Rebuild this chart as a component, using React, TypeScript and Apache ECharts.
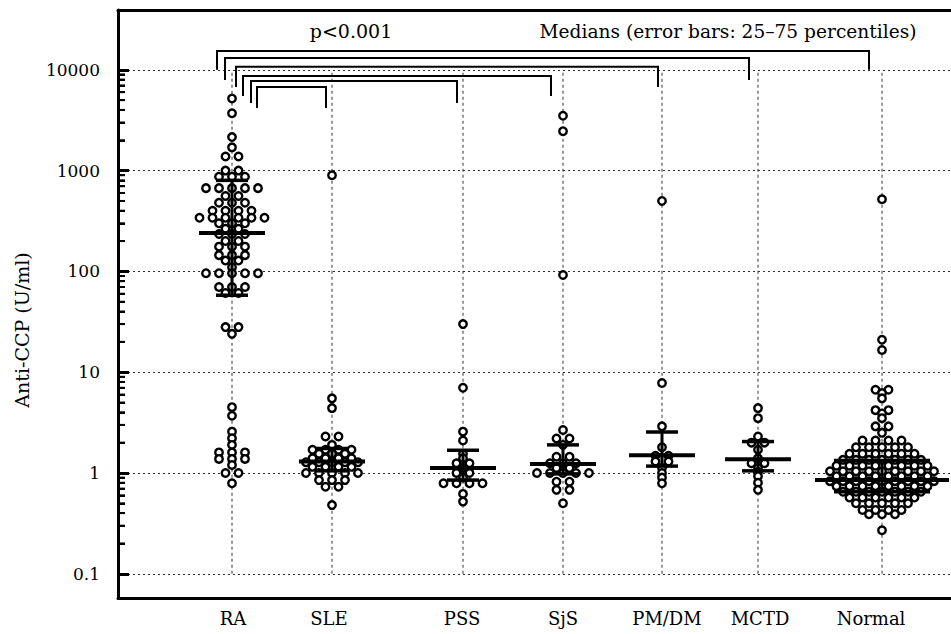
import React, { useEffect, useRef } from 'react';
import * as echarts from 'echarts';

const SERIF = '"DejaVu Serif", "Liberation Serif", serif';

// ---- categories & layout of columns ----
const groups = ['RA', 'SLE', 'PSS', 'SjS', 'PM/DM', 'MCTD', 'Normal'];
const groupPos = [1.14, 2.14, 3.45, 4.45, 5.44, 6.4, 7.64];
const labelPos = [1.15, 2.11, 3.44, 4.45, 5.49, 6.42, 7.53];

// ---- individual values (U/ml) ----
const raValues = [
  5200, 3700, 2150, 1700, 1380, 1380, 1000, 1000, 870, 870, 870,
  670, 670, 670, 670, 670, 560, 560, 480, 480, 480, 400, 400, 400, 400,
  340, 340, 340, 340, 340, 340, 300, 300, 300, 265, 265, 235, 235, 235,
  200, 200, 176, 176, 176, 145, 145, 145, 128, 128, 110,
  96, 96, 96, 96, 96, 70, 70, 70, 61, 61,
  28, 28, 24, 4.5, 3.7, 2.57, 2.21, 1.9, 1.6, 1.6, 1.6, 1.38, 1.38, 1.38, 1.2, 1.0, 1.0, 0.79,
];
const sleValues = [
  900, 5.5, 4.4, 2.3, 2.3, 1.9, 1.7, 1.7, 1.7, 1.7, 1.55, 1.55, 1.55,
  1.4, 1.4, 1.4, 1.4, 1.28, 1.28, 1.28, 1.28, 1.28, 1.15, 1.15, 1.15, 1.15,
  1.0, 1.0, 1.0, 1.0, 1.0, 0.85, 0.85, 0.85, 0.73, 0.73, 0.48,
];
const pssValues = [
  30, 7, 2.57, 2.1, 1.55, 1.4, 1.25, 1.25, 1.12, 1.0, 1.0, 0.9,
  0.79, 0.79, 0.79, 0.79, 0.62, 0.52,
];
const sjsValues = [
  3500, 2460, 92, 2.67, 2.2, 2.2, 1.9, 1.45, 1.45, 1.25, 1.25, 1.25, 1.12, 1.12,
  1.0, 1.0, 1.0, 1.0, 1.0, 0.82, 0.82, 0.68, 0.68, 0.5,
];
const pmdmValues = [500, 7.8, 2.9, 1.8, 1.48, 1.48, 1.3, 1.3, 1.12, 1.0, 0.9, 0.79];
const mctdValues = [4.4, 3.5, 2.3, 2.0, 2.0, 1.7, 1.4, 1.25, 1.25, 1.12, 1.02, 0.93, 0.8, 0.68];
const normalValues = [
  520, 21, 16.6, 6.7, 6.7, 6.2, 5.5, 4.2, 4.2, 3.9, 3.5, 2.9, 2.9, 2.5,
  2.1, 2.1, 2.1, 2.1,
  1.8, 1.8, 1.8, 1.8, 1.8,
  1.55, 1.55, 1.55, 1.55, 1.55, 1.55,
  1.35, 1.35, 1.35, 1.35, 1.35, 1.35, 1.35,
  1.18, 1.18, 1.18, 1.18, 1.18, 1.18, 1.18, 1.18,
  1.04, 1.04, 1.04, 1.04, 1.04, 1.04, 1.04, 1.04, 1.04,
  0.93, 0.93, 0.93, 0.93, 0.93, 0.93, 0.93, 0.93,
  0.83, 0.83, 0.83, 0.83, 0.83, 0.83, 0.83, 0.83, 0.83,
  0.74, 0.74, 0.74, 0.74, 0.74, 0.74, 0.74, 0.74,
  0.65, 0.65, 0.65, 0.65, 0.65, 0.65, 0.65,
  0.57, 0.57, 0.57, 0.57, 0.57, 0.57,
  0.5, 0.5, 0.5, 0.5, 0.5,
  0.43, 0.43, 0.43, 0.43,
  0.39, 0.39, 0.39,
  0.27,
];
const groupValues = [raValues, sleValues, pssValues, sjsValues, pmdmValues, mctdValues, normalValues];

// ---- medians and 25-75 percentiles ----
const medians = [240, 1.3, 1.12, 1.23, 1.5, 1.37, 0.85];
const q25 = [58, 1.05, 0.85, 0.98, 1.17, 1.05, 0.65];
const q75 = [800, 1.75, 1.68, 1.9, 2.55, 2.05, 1.33];

// ---- y axis ticks ----
const yTicks = [0.1, 1, 10, 100, 1000, 10000];
const yTickLabels = ['0.1', '1', '10', '100', '1000', '10000'];

// ---- comparison brackets (RA vs. each group), in data units ----
const bracketTarget = ['Normal', 'MCTD', 'PM/DM', 'SjS', 'PSS', 'SLE'];
const bracketLeft = [0.99, 1.07, 1.18, 1.25, 1.33, 1.39];
const bracketRight = [7.51, 6.31, 5.4, 4.33, 3.39, 2.08];
const bracketTop = [15400, 13100, 10700, 8680, 7740, 6750];
const bracketFoot = [10000, 7920, 6750, 5500, 4690, 4180];

// ---- layout / style constants ----
const H = 634;
// the chart canvas is slightly wider than the 951px window so that the
// plot frame runs off the right edge (no right border is visible in the original)
const CHART_W = 960;
const GRID = { left: 118, right: 6, top: 10, bottom: 36 };
const X_MAX = 8.36;
const Y_MIN = 0.0575;
const Y_MAX = 39200;
const DOT_SPACING = 13;
const medHalf = [33, 33, 33, 33, 33, 33, 67];
const capHalf = [16, 16, 16, 16, 16, 16, 48];
const PX_PER_X = (CHART_W - GRID.left - GRID.right) / X_MAX;

const minorTicks: number[] = [];
for (let d = -1; d < 4; d++) {
  for (let m = 2; m <= 9; m++) minorTicks.push(m * Math.pow(10, d));
}

function swarm(values: number[], center: number): number[][] {
  const sorted = [...values].sort((a, b) => b - a);
  const out: number[][] = [];
  let i = 0;
  while (i < sorted.length) {
    let j = i;
    while (j < sorted.length && sorted[j] === sorted[i]) j++;
    const n = j - i;
    for (let k = 0; k < n; k++) {
      out.push([center + ((k - (n - 1) / 2) * DOT_SPACING) / PX_PER_X, sorted[i]]);
    }
    i = j;
  }
  return out;
}

const points: number[][] = [];
groupValues.forEach((vals, gi) => {
  swarm(vals, groupPos[gi]).forEach((p) => points.push(p));
});

const BLACK = '#000';

function buildOption(): any {
  return {
    animation: false,
    backgroundColor: '#fff',
    textStyle: { fontFamily: SERIF },
    grid: { ...GRID, containLabel: false, show: false, borderWidth: 0 },
    xAxis: [
      {
        type: 'value',
        min: 0,
        max: X_MAX,
        position: 'bottom',
        axisLine: { show: true, onZero: false, lineStyle: { color: BLACK, width: 3 } },
        axisTick: { show: false },
        splitLine: { show: false },
        axisLabel: {
          customValues: labelPos,
          formatter: (v: number) => {
            const i = labelPos.findIndex((p) => Math.abs(p - v) < 1e-6);
            return i >= 0 ? groups[i] : '';
          },
          margin: 11,
          color: BLACK,
          fontSize: 18,
          fontFamily: SERIF,
        },
      },
      {
        type: 'value',
        min: 0,
        max: X_MAX,
        position: 'top',
        axisLine: { show: true, onZero: false, lineStyle: { color: BLACK, width: 3 } },
        axisTick: { show: false },
        axisLabel: { show: false },
        splitLine: { show: false },
      },
    ],
    yAxis: [
      {
        type: 'log',
        logBase: 10,
        min: Y_MIN,
        max: Y_MAX,
        position: 'left',
        axisLine: { show: true, onZero: false, lineStyle: { color: BLACK, width: 3 } },
        axisTick: {
          show: true,
          inside: true,
          length: 11,
          customValues: yTicks,
          lineStyle: { color: BLACK, width: 3 },
        },
        minorTick: { show: false },
        splitLine: { show: true, lineStyle: { color: '#333', width: 1, type: [2, 3] } },
        axisLabel: {
          formatter: (v: number) => {
            const i = yTicks.findIndex((t) => Math.abs(Math.log10(v) - Math.log10(t)) < 1e-6);
            return i >= 0 ? yTickLabels[i] : '';
          },
          margin: 18,
          color: BLACK,
          fontSize: 17,
          fontFamily: SERIF,
        },
      },
      {
        // minor (2..9) log ticks along the left frame
        type: 'log',
        logBase: 10,
        min: Y_MIN,
        max: Y_MAX,
        position: 'left',
        offset: 0,
        axisLine: { show: false },
        axisTick: {
          show: true,
          inside: true,
          length: 7,
          customValues: minorTicks,
          lineStyle: { color: BLACK, width: 2 },
        },
        axisLabel: { show: false },
        splitLine: { show: false },
      },
    ],
    graphic: [
      {
        type: 'text',
        x: 351,
        y: 31,
        style: { text: 'p<0.001', fill: BLACK, font: `19px ${SERIF}`, textAlign: 'center', textVerticalAlign: 'middle' },
      },
      {
        type: 'text',
        x: 728,
        y: 31,
        style: {
          text: 'Medians (error bars: 25–75 percentiles)',
          fill: BLACK,
          font: `18.6px ${SERIF}`,
          textAlign: 'center',
          textVerticalAlign: 'middle',
        },
      },
      {
        type: 'text',
        x: 22,
        y: 330,
        rotation: Math.PI / 2,
        style: { text: 'Anti-CCP (U/ml)', fill: BLACK, font: `19px ${SERIF}`, textAlign: 'center', textVerticalAlign: 'middle' },
      },
    ],
    series: [
      // column guide lines
      {
        type: 'custom',
        name: 'columns',
        coordinateSystem: 'cartesian2d',
        z: 1,
        silent: true,
        encode: { x: 0, y: [1, 2] },
        data: groupPos.map((p) => [p, yTicks[0], yTicks[yTicks.length - 1]]),
        renderItem: (params: any, api: any) => {
          const a = api.coord([api.value(0), api.value(1)]);
          const b = api.coord([api.value(0), api.value(2)]);
          return {
            type: 'line',
            shape: { x1: a[0], y1: a[1], x2: b[0], y2: b[1] },
            style: { stroke: '#333', lineWidth: 1, lineDash: [3, 3] },
          };
        },
      },
      // minor ticks on y axis (drawn through the axis scale as well)
      {
        type: 'custom',
        name: 'minorTicks',
        coordinateSystem: 'cartesian2d',
        z: 5,
        clip: false,
        silent: true,
        encode: { x: 0, y: 1 },
        data: minorTicks.map((v) => [0, v]),
        renderItem: (params: any, api: any) => {
          const p = api.coord([0, api.value(1)]);
          return {
            type: 'line',
            shape: { x1: p[0], y1: p[1], x2: p[0] + 7, y2: p[1] },
            style: { stroke: BLACK, lineWidth: 2 },
          };
        },
      },
      // individual values
      {
        type: 'scatter',
        name: 'values',
        z: 3,
        symbol: 'circle',
        symbolSize: 7.5,
        itemStyle: { color: '#fff', borderColor: BLACK, borderWidth: 2.4, opacity: 1 },
        data: points,
      },
      // medians and quartile bars
      {
        type: 'custom',
        name: 'medians',
        coordinateSystem: 'cartesian2d',
        z: 4,
        clip: false,
        silent: true,
        encode: { x: 0, y: [1, 2, 3] },
        data: groups.map((g, i) => [groupPos[i], medians[i], q25[i], q75[i]]),
        renderItem: (params: any, api: any) => {
          const i = params.dataIndex;
          const x = api.value(0);
          const pm = api.coord([x, api.value(1)]);
          const pl = api.coord([x, api.value(2)]);
          const ph = api.coord([x, api.value(3)]);
          const mh = medHalf[i];
          const ch = capHalf[i];
          const st = (w: number) => ({ stroke: BLACK, lineWidth: w });
          return {
            type: 'group',
            children: [
              { type: 'line', shape: { x1: pl[0], y1: pl[1], x2: ph[0], y2: ph[1] }, style: st(3) },
              { type: 'line', shape: { x1: pl[0] - ch, y1: pl[1], x2: pl[0] + ch, y2: pl[1] }, style: st(3.5) },
              { type: 'line', shape: { x1: ph[0] - ch, y1: ph[1], x2: ph[0] + ch, y2: ph[1] }, style: st(3.5) },
              { type: 'line', shape: { x1: pm[0] - mh, y1: pm[1], x2: Math.min(pm[0] + mh, 949), y2: pm[1] }, style: st(4) },
            ],
          };
        },
      },
      // significance brackets
      {
        type: 'custom',
        name: 'brackets',
        coordinateSystem: 'cartesian2d',
        z: 4,
        clip: false,
        silent: true,
        encode: { x: [0, 1], y: [2, 3] },
        data: bracketTarget.map((t, i) => [bracketLeft[i], bracketRight[i], bracketTop[i], bracketFoot[i]]),
        renderItem: (params: any, api: any) => {
          const l = api.value(0);
          const r = api.value(1);
          const t = api.value(2);
          const f = api.value(3);
          const p1 = api.coord([l, f]);
          const p2 = api.coord([l, t]);
          const p3 = api.coord([r, t]);
          const p4 = api.coord([r, f]);
          return {
            type: 'polyline',
            shape: { points: [p1, p2, p3, p4] },
            style: { stroke: BLACK, lineWidth: 2, fill: null },
          };
        },
      },
    ],
  };
}

export default function App() {
  const ref = useRef<HTMLDivElement>(null);
  useEffect(() => {
    if (!ref.current) return;
    const chart = echarts.init(ref.current, null, { renderer: 'svg' });
    chart.setOption(buildOption());
    return () => chart.dispose();
  }, []);
  return (
    <div
      ref={ref}
      style={{ position: 'fixed', left: 0, top: 0, width: CHART_W, height: H, background: '#fff' }}
    />
  );
}
